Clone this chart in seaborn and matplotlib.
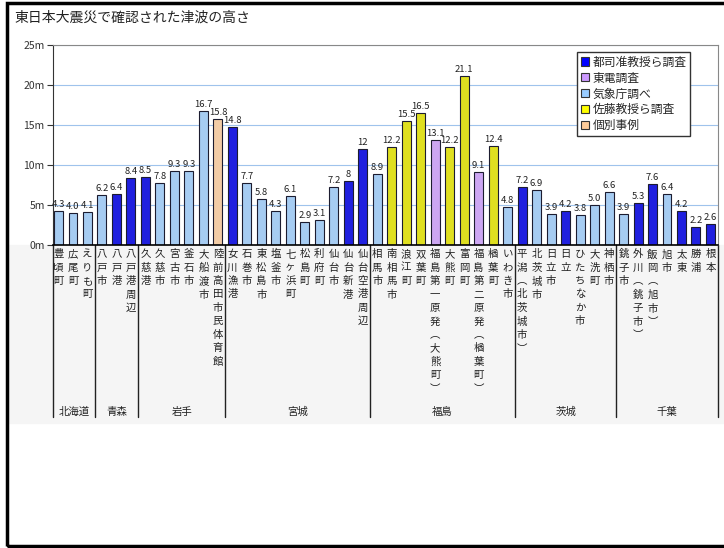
import pandas as pd
import matplotlib.pyplot as plt
import seaborn as sns
from matplotlib.patches import Patch, Rectangle
from matplotlib.transforms import blended_transform_factory

# 地点名（左から順に）
names = ["豊頃町", "広尾町", "えりも町",
         "八戸市", "八戸港", "八戸港周辺",
         "久慈港", "久慈市", "宮古市", "釜石市", "大船渡市", "陸前高田市民体育館",
         "女川漁港", "石巻市", "東松島市", "塩釜市", "七ヶ浜町", "松島町", "利府町",
         "仙台市", "仙台新港", "仙台空港周辺",
         "相馬市", "南相馬市", "浪江町", "双葉町", "福島第一原発（大熊町）", "大熊町",
         "富岡町", "福島第二原発（楢葉町）", "楢葉町", "いわき市",
         "平潟（北茨城市）", "北茨城市", "日立市", "日立", "ひたちなか市", "大洗町", "神栖市",
         "銚子市", "外川（銚子市）", "飯岡（旭市）", "旭市", "太東", "勝浦", "根本"]

# 津波の高さ（m）、表示どおりの文字列
heights_txt = ["4.3", "4.0", "4.1",
               "6.2", "6.4", "8.4",
               "8.5", "7.8", "9.3", "9.3", "16.7", "15.8",
               "14.8", "7.7", "5.8", "4.3", "6.1", "2.9", "3.1", "7.2", "8", "12",
               "8.9", "12.2", "15.5", "16.5", "13.1", "12.2", "21.1", "9.1", "12.4", "4.8",
               "7.2", "6.9", "3.9", "4.2", "3.8", "5.0", "6.6",
               "3.9", "5.3", "7.6", "6.4", "4.2", "2.2", "2.6"]
heights = [float(s) for s in heights_txt]

T, D, K, S, I = "都司准教授ら調査", "東電調査", "気象庁調べ", "佐藤教授ら調査", "個別事例"
sources = [K, K, K,
           K, T, T,
           T, K, K, K, K, I,
           T, K, K, K, K, K, K, K, T, T,
           K, S, S, S, D, S, S, D, S, K,
           T, K, K, T, K, K, K,
           K, T, T, K, T, T, T]

prefs = ["北海道", "青森", "岩手", "宮城", "福島", "茨城", "千葉"]
pref_counts = [3, 3, 6, 10, 10, 7, 7]

src_order = [T, D, K, S, I]
src_colors = ["#0000ff", "#cc99ff", "#99ccff", "#ffff00", "#ffcc99"]

df = pd.DataFrame({"name": names, "height": heights, "source": sources})

sns.set_style("white")
plt.rcParams["font.family"] = ["Noto Sans CJK JP", "DejaVu Sans"]

W, H = 724, 548
fig = plt.figure(figsize=(W / 100, H / 100), dpi=100)
ax = fig.add_axes([53 / W, 1 - 245 / H, (718 - 53) / W, 200 / H])

sns.barplot(data=df, x="name", y="height", hue="source", hue_order=src_order,
            palette=dict(zip(src_order, src_colors)), dodge=False, width=0.62,
            edgecolor="#1c1c30", linewidth=0.8, legend=False, ax=ax)

for i, (h, t) in enumerate(zip(heights, heights_txt)):
    ax.annotate(t, (i, h), xytext=(0, 1.5), textcoords="offset points",
                ha="center", va="bottom", fontsize=6.8, color="#222222")

ax.set_xlim(-0.38, len(names) - 1 + 0.52)
ax.set_ylim(0, 25)
ax.set_yticks(range(0, 26, 5))
ax.set_yticklabels([f"{v}m" for v in range(0, 26, 5)], fontsize=7.5, color="#333333")
ax.yaxis.grid(True, color="#9fc3ec", lw=0.8)
ax.set_axisbelow(True)
ax.set_xlabel("")
ax.set_ylabel("")


def vertical(s):
    s = s.replace("（", "︵").replace("）", "︶")
    return "\n".join(s)


ax.set_xticks(range(len(names)))
ax.set_xticklabels([vertical(n) for n in names], fontsize=7.5, linespacing=1.43,
                   va="top", color="#222222")
ax.tick_params(axis="x", length=0, pad=3)
ax.tick_params(axis="y", length=4, width=0.8, color="#333333", left=True, pad=2)

ax.spines["left"].set_color("#333333")
ax.spines["bottom"].set_color("black")
ax.spines["bottom"].set_linewidth(1.2)
for sp in ("top", "right"):
    ax.spines[sp].set_color("#888888")
    ax.spines[sp].set_linewidth(0.8)

# 県の区切り線と県名
trans = blended_transform_factory(ax.transData, ax.transAxes)
x0, x1 = ax.get_xlim()
bounds = [x0]
acc = 0
for c in pref_counts[:-1]:
    acc += c
    bounds.append(acc - 0.5)
bounds.append(x1)
for b in bounds:
    ax.plot([b, b], [0, -0.86], transform=trans, color="#222222", lw=1, clip_on=False)
for p, a, b in zip(prefs, bounds[:-1], bounds[1:]):
    ax.text((a + b) / 2, -0.835, p, transform=trans, ha="center", va="center",
            fontsize=7.5, color="#222222")

# 下の灰色の帯と外枠
fig.patches.append(Rectangle((8 / W, 1 - 423 / H), (W - 8) / W, 178 / H,
                             transform=fig.transFigure, color="#f5f5f5", zorder=-1))
fig.patches.append(Rectangle((7 / W, 1 - 546 / H), 730 / W, 543 / H, fill=False,
                             transform=fig.transFigure, ec="black", lw=2.5))

fig.text(14 / W, 1 - 18 / H, "東日本大震災で確認された津波の高さ", fontsize=10,
         va="center", color="#222222")

handles = [Patch(facecolor=c, edgecolor="#333333", lw=0.8) for c in src_colors]
fig.legend(handles, src_order, loc="upper left", bbox_to_anchor=(577 / W, 1 - 52 / H),
           borderaxespad=0, fontsize=8.5, frameon=True, fancybox=False,
           edgecolor="#333333", framealpha=1, handlelength=0.7, handleheight=0.7,
           handletextpad=0.3, labelspacing=0.25, borderpad=0.3)

fig.savefig("out.png", dpi=100)
